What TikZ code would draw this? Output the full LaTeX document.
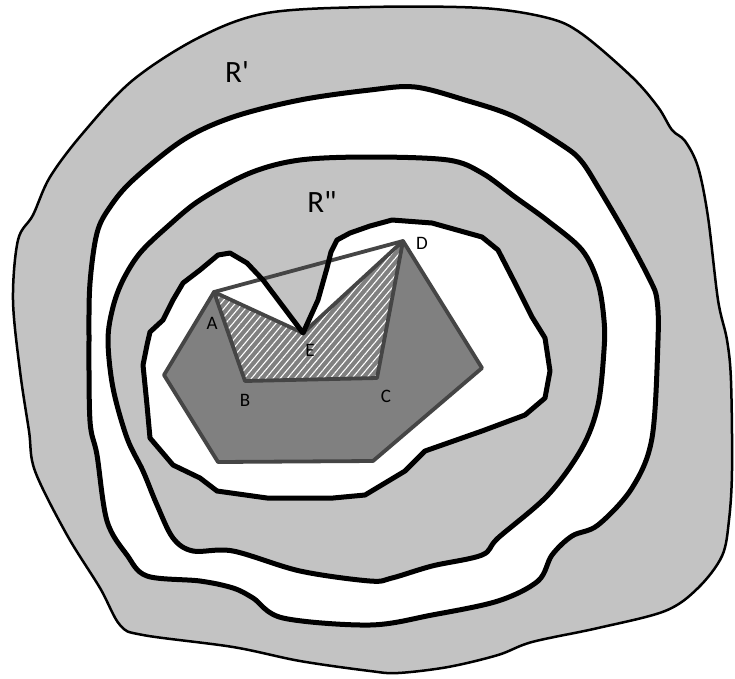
\documentclass[tikz,border=0pt]{standalone}
\usepackage{fontspec}
\setmainfont{Carlito}
\usetikzlibrary{patterns.meta}
\definecolor{lightR}{HTML}{C3C3C3}
\definecolor{darkP}{HTML}{808080}
\definecolor{edgeP}{HTML}{454545}
\tikzset{
  outerline/.style={draw=black,line width=2.5pt,line join=round},
  thickline/.style={draw=black,line width=5pt,line join=round},
  polyedge/.style={draw=edgeP,line width=3.8pt,line join=round},
  vlabel/.style={font=\fontsize{19}{19}\selectfont,inner sep=0pt},
  rlabel/.style={font=\fontsize{31}{31}\selectfont,inner sep=0pt}
}
\begin{document}
\begin{tikzpicture}[x=1pt,y=-1pt]
\useasboundingbox (0,0) rectangle (735,678);
% curves
\def\curveA{plot[smooth cycle,tension=0.55] coordinates {(267,13) (370,7) (482,8) (548,18) (582,34) (632,77) (658,107) (672,130) (685,141) (698,167) (708,217) (718,300) (727,340) (731,381) (732,470) (729,520) (722,556) (698,588) (665,611) (598,628) (532,642) (498,655) (448,667) (398,673) (370,671) (300,661) (233,647) (143,635) (120,625) (100,588) (67,535) (35,471) (29,431) (20,371) (13,300) (18,240) (33,215) (50,177) (83,133) (133,80) (200,37)}}
\def\curveB{plot[smooth cycle,tension=0.55] coordinates {(370,90) (415,87) (465,100) (515,117) (565,147) (582,162) (598,187) (625,233) (650,280) (657,300) (658,340) (652,438) (632,488) (598,525) (572,536) (552,555) (538,581) (498,601) (432,615) (370,625) (283,618) (253,598) (233,588) (200,581) (147,576) (127,555) (107,521) (97,455) (90,421) (89,338) (90,283) (97,233) (110,207) (133,180) (183,140) (233,117) (300,100)}}
\def\curveC{plot[smooth cycle,tension=0.55] coordinates {(370,157) (448,160) (482,173) (515,197) (548,221) (582,250) (598,283) (604,320) (604,350) (598,405) (582,448) (548,495) (498,538) (482,555) (432,566) (392,578) (370,581) (300,571) (233,551) (193,551) (173,538) (157,505) (143,471) (127,438) (113,388) (108,340) (113,307) (123,280) (140,253) (167,227) (200,200) (250,173) (300,160)}}
\def\curveD{(303,333) -- (318,300) -- (327,268) -- (331,252) -- (337,240) -- (350,233) -- (370,226) -- (392,220) -- (432,223) -- (482,237) -- (498,250) -- (515,283) -- (532,317) -- (545,338) -- (550,371) -- (545,398) -- (525,415) -- (482,431) -- (425,451) -- (405,471) -- (365,495) -- (333,498) -- (267,498) -- (217,491) -- (200,478) -- (173,465) -- (150,438) -- (147,405) -- (143,365) -- (147,345) -- (150,332) -- (163,320) -- (173,300) -- (183,283) -- (200,270) -- (218,255) -- (230,253) -- (247,263) -- (263,280) -- cycle}
\fill[lightR] \curveA;
\fill[white] \curveB;
\fill[lightR] \curveC;
\fill[white] \curveD;
% polygon
\coordinate (A) at (214,292);
\coordinate (L) at (164,375);
\coordinate (BL) at (218,462);
\coordinate (BR) at (373,461);
\coordinate (R) at (482,368);
\coordinate (D) at (403,241);
\coordinate (B) at (245,381);
\coordinate (C) at (377,378);
\coordinate (E) at (303,333);
\fill[darkP] (A) -- (L) -- (BL) -- (BR) -- (R) -- (D) -- (C) -- (B) -- cycle;
\fill[darkP] (A) -- (B) -- (C) -- (D) -- (E) -- cycle;
\fill[pattern={Lines[angle=50,distance=5.5pt,line width=1.1pt]},pattern color=white] (A) -- (B) -- (C) -- (D) -- (E) -- cycle;
\draw[polyedge] (A) -- (L) -- (BL) -- (BR) -- (R) -- (D) -- cycle;
\draw[polyedge] (A) -- (B) -- (C) -- (D) -- (E) -- cycle;
% curve strokes
\draw[outerline] \curveA;
\draw[thickline] \curveB;
\draw[thickline] \curveC;
\draw[thickline] \curveD;
% labels
\node[vlabel] (lA) at (212,323) {A};
\node[vlabel] (lB) at (245,400) {B};
\node[vlabel] (lC) at (386,396) {C};
\node[vlabel] (lD) at (422,243) {D};
\node[vlabel] (lE) at (310,350) {E};
\node[rlabel] (lR1) at (237,72) {R\textquotesingle};
\node[rlabel] (lR2) at (322,202) {R\textquotedbl};
\end{tikzpicture}
\end{document}
